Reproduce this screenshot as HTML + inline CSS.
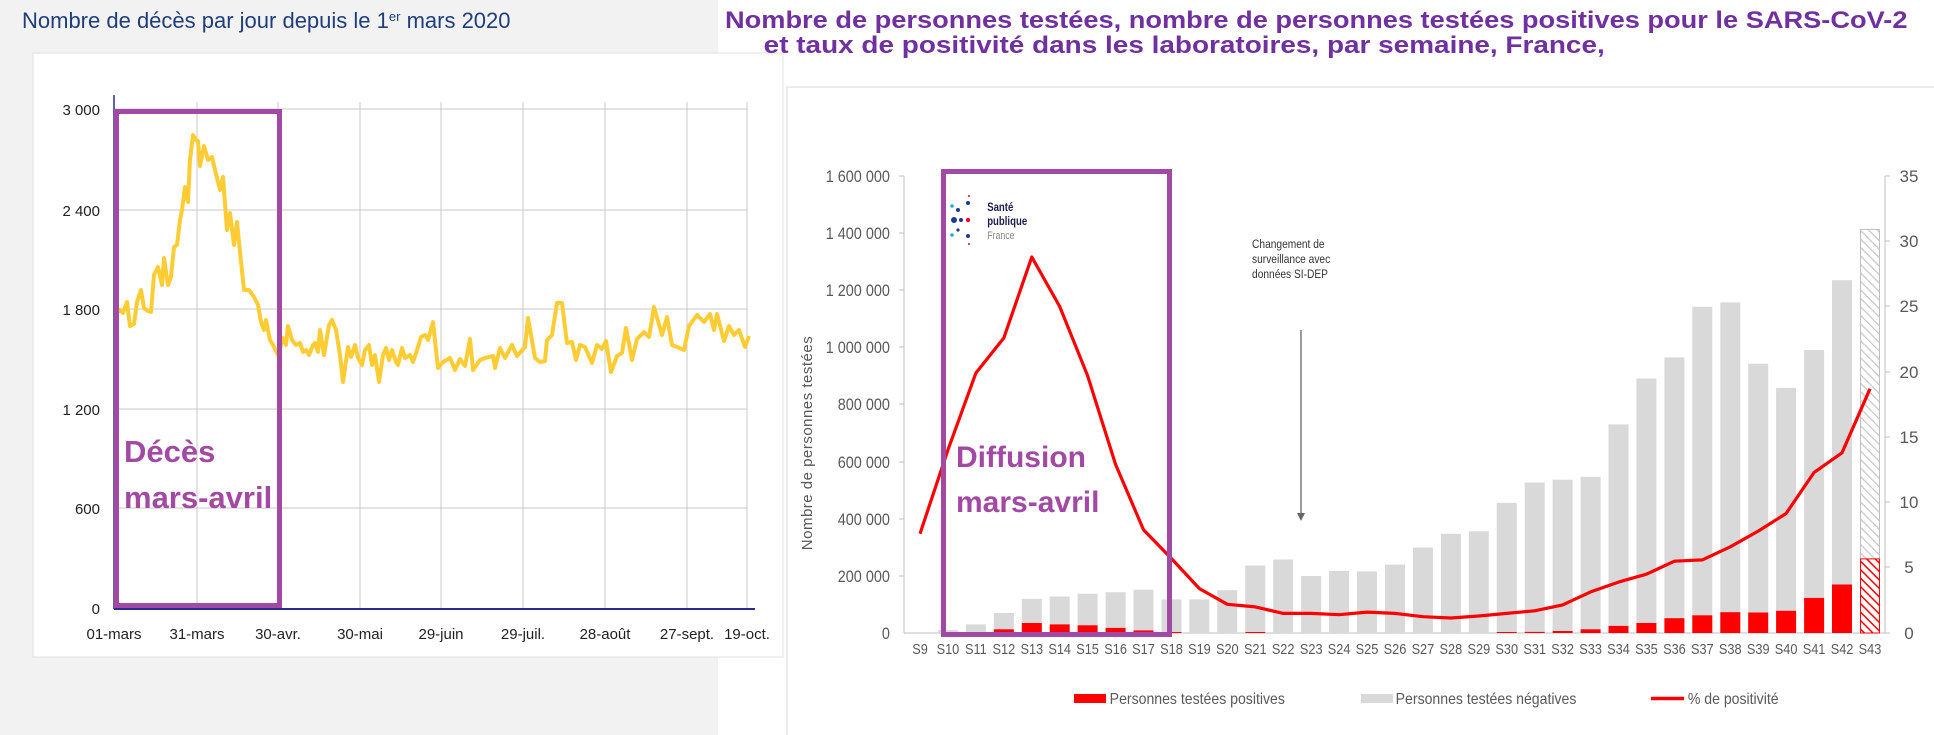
<!DOCTYPE html>
<html><head><meta charset="utf-8"><style>
html,body{margin:0;padding:0;background:#fff;}
svg{display:block;font-family:"Liberation Sans",Arial,sans-serif;}
</style></head><body>
<svg width="1934" height="735" viewBox="0 0 1934 735" xmlns="http://www.w3.org/2000/svg">
<defs>
<pattern id="hg" patternUnits="userSpaceOnUse" width="6" height="6" patternTransform="rotate(-45)"><rect width="6" height="6" fill="#fff"/><line x1="0" y1="0" x2="0" y2="6" stroke="#c8c8c8" stroke-width="2.5"/></pattern>
<pattern id="hr" patternUnits="userSpaceOnUse" width="6" height="6" patternTransform="rotate(-45)"><rect width="6" height="6" fill="#fff"/><line x1="0" y1="0" x2="0" y2="6" stroke="#ff0000" stroke-width="3"/></pattern>
</defs>
<!-- left background -->
<rect x="0" y="0" width="718" height="735" fill="#f2f2f2"/>
<rect x="718" y="0" width="1216" height="735" fill="#fff"/>
<rect x="33" y="53" width="750" height="604" fill="#fff" stroke="#e0e0e0"/>
<text x="22" y="28" font-size="22" fill="#1f3e7a" font-family="Liberation Sans, sans-serif">Nombre de décès par jour depuis le 1<tspan font-size="13" dy="-7">er</tspan><tspan dy="7"> mars 2020</tspan></text>
<!-- left grid -->
<g stroke="#c8c8c8" stroke-width="1">
<line x1="114" y1="109" x2="747" y2="109"/><line x1="114" y1="210" x2="747" y2="210"/><line x1="114" y1="309" x2="747" y2="309"/><line x1="114" y1="409" x2="747" y2="409"/><line x1="114" y1="508" x2="747" y2="508"/>
<line x1="197" y1="102" x2="197" y2="609"/><line x1="278" y1="102" x2="278" y2="609"/><line x1="360" y1="102" x2="360" y2="609"/><line x1="441" y1="102" x2="441" y2="609"/><line x1="523" y1="102" x2="523" y2="609"/><line x1="605" y1="102" x2="605" y2="609"/><line x1="687" y1="102" x2="687" y2="609"/><line x1="747" y1="102" x2="747" y2="609"/>
</g>
<line x1="114" y1="95" x2="114" y2="609" stroke="#2b2b8f" stroke-width="1.5"/>
<line x1="114" y1="609" x2="755" y2="609" stroke="#2b2b8f" stroke-width="2"/>
<g font-size="15" fill="#222" text-anchor="end">
<text x="100" y="115">3 000</text><text x="100" y="216">2 400</text><text x="100" y="315">1 800</text><text x="100" y="415">1 200</text><text x="100" y="514">600</text><text x="100" y="614">0</text>
</g>
<g font-size="15" fill="#222" text-anchor="middle">
<text x="114" y="639">01-mars</text><text x="197" y="639">31-mars</text><text x="278" y="639">30-avr.</text><text x="360" y="639">30-mai</text><text x="441" y="639">29-juin</text><text x="523" y="639">29-juil.</text><text x="605" y="639">28-août</text><text x="687" y="639">27-sept.</text><text x="747" y="639">19-oct.</text>
</g>
<polyline fill="none" stroke="#ffcd33" stroke-width="4" stroke-linejoin="round" points="117,312 120,310 123,313 127,302 130,326 134,324 137,302 141,290 144,308 148,311 151,312 154,275 158,267 162,285 164,258 168,285 171,277 174,247 177,245 180,220 182,210 185,187 188,202 190,160 193,135 196,140 198,141 200,166 204,146 208,160 212,157 216,174 220,190 223,177 227,230 230,213 234,245 237,222 240,252 244,290 249,290 254,297 258,305 261,322 264,330 266,320 270,340 273,345 278,355 283,338 286,345 288,326 292,340 296,345 300,343 303,352 306,350 309,355 313,345 315,343 318,352 320,330 324,355 329,325 332,320 336,330 340,355 343,382 348,347 351,357 355,345 358,358 362,365 365,350 369,345 372,365 375,355 379,382 383,355 386,348 389,360 392,350 396,362 398,365 402,348 405,358 410,355 413,362 418,347 421,337 425,335 428,340 433,322 438,368 443,362 450,358 455,370 460,359 465,366 470,339 473,370 480,360 485,358 493,356 495,368 500,348 505,358 512,345 517,356 525,347 528,318 535,358 540,362 545,361 547,340 552,335 557,303 562,303 567,343 572,342 576,360 580,345 585,347 592,363 597,345 602,349 606,341 611,372 617,356 622,353 626,328 632,360 637,339 644,332 649,337 654,307 662,335 667,317 672,345 677,347 684,350 689,326 697,315 704,322 710,314 714,330 717,314 724,341 729,326 734,335 739,330 745,347 749,336"/>
<rect x="116.5" y="111.5" width="163" height="494" fill="none" stroke="#a24aa3" stroke-width="5"/>
<text x="124" y="462" font-size="31" font-weight="bold" fill="#a24aa3">Décès</text>
<text x="124" y="508" font-size="31" font-weight="bold" fill="#a24aa3">mars-avril</text>

<!-- right panel -->
<rect x="787" y="87" width="1160" height="660" fill="#fff" stroke="#d8d8d8"/>
<g font-size="24" font-weight="bold" fill="#7030a0" transform="scale(0.86,1)">
<text x="843" y="28" textLength="1375" lengthAdjust="spacingAndGlyphs">Nombre de personnes testées, nombre de personnes testées positives pour le SARS-CoV-2</text>
<text x="888" y="53" textLength="978" lengthAdjust="spacingAndGlyphs">et taux de positivité dans les laboratoires, par semaine, France,</text>
</g>
<!-- axes -->
<line x1="904" y1="176" x2="904" y2="633" stroke="#bfbfbf"/>
<line x1="1885" y1="176" x2="1885" y2="633" stroke="#bfbfbf"/>
<line x1="904" y1="633" x2="1885" y2="633" stroke="#bfbfbf"/>
<g stroke="#bfbfbf">
<line x1="899" y1="176" x2="904" y2="176"/><line x1="899" y1="233" x2="904" y2="233"/><line x1="899" y1="290" x2="904" y2="290"/><line x1="899" y1="347" x2="904" y2="347"/><line x1="899" y1="404" x2="904" y2="404"/><line x1="899" y1="462" x2="904" y2="462"/><line x1="899" y1="519" x2="904" y2="519"/><line x1="899" y1="576" x2="904" y2="576"/>
<line x1="1885" y1="176" x2="1890" y2="176"/><line x1="1885" y1="241" x2="1890" y2="241"/><line x1="1885" y1="306" x2="1890" y2="306"/><line x1="1885" y1="372" x2="1890" y2="372"/><line x1="1885" y1="437" x2="1890" y2="437"/><line x1="1885" y1="502" x2="1890" y2="502"/><line x1="1885" y1="567" x2="1890" y2="567"/><line x1="1885" y1="633" x2="1890" y2="633"/>
</g>
<g font-size="17" fill="#595959" text-anchor="end" transform="scale(0.85,1)">
<text x="1047" y="182">1 600 000</text><text x="1047" y="239">1 400 000</text><text x="1047" y="296">1 200 000</text><text x="1047" y="353">1 000 000</text><text x="1047" y="410">800 000</text><text x="1047" y="468">600 000</text><text x="1047" y="525">400 000</text><text x="1047" y="582">200 000</text><text x="1047" y="639">0</text>
</g>
<g font-size="17" fill="#595959" text-anchor="middle">
<text x="1909" y="182">35</text><text x="1909" y="247">30</text><text x="1909" y="312">25</text><text x="1909" y="378">20</text><text x="1909" y="443">15</text><text x="1909" y="508">10</text><text x="1909" y="573">5</text><text x="1909" y="639">0</text>
</g>
<text transform="translate(812,443) rotate(-90)" font-size="15" fill="#595959" text-anchor="middle" letter-spacing="0.5">Nombre de personnes  testées</text>
<!-- bars -->
<g fill="#d9d9d9">
<rect x="937.9" y="630.1" width="20" height="2.9"/><rect x="965.9" y="624.4" width="20" height="8.6"/><rect x="993.8" y="613" width="20" height="20"/><rect x="1021.8" y="598.8" width="20" height="34.2"/><rect x="1049.7" y="596.5" width="20" height="36.5"/><rect x="1077.6" y="593.7" width="20" height="39.3"/><rect x="1105.6" y="592.2" width="20" height="40.8"/><rect x="1133.5" y="589.7" width="20" height="43.3"/><rect x="1161.5" y="599.4" width="20" height="33.6"/><rect x="1189.4" y="599.4" width="20" height="33.6"/><rect x="1217.3" y="590.2" width="20" height="42.8"/><rect x="1245.3" y="565.5" width="20" height="67.5"/><rect x="1273.2" y="559.5" width="20" height="73.5"/><rect x="1301.2" y="576" width="20" height="57"/><rect x="1329.1" y="570.9" width="20" height="62.1"/><rect x="1357" y="571.4" width="20" height="61.6"/><rect x="1385" y="564.6" width="20" height="68.4"/><rect x="1412.9" y="547.5" width="20" height="85.5"/><rect x="1440.9" y="533.8" width="20" height="99.2"/><rect x="1468.8" y="531.3" width="20" height="101.7"/><rect x="1496.7" y="502.8" width="20" height="130.2"/><rect x="1524.7" y="482.5" width="20" height="150.5"/><rect x="1552.6" y="479.7" width="20" height="153.3"/><rect x="1580.6" y="476.8" width="20" height="156.2"/><rect x="1608.5" y="424.4" width="20" height="208.6"/><rect x="1636.4" y="378.5" width="20" height="254.5"/><rect x="1664.4" y="357.4" width="20" height="275.6"/><rect x="1692.3" y="306.7" width="20" height="326.3"/><rect x="1720.3" y="302.4" width="20" height="330.6"/><rect x="1748.2" y="363.7" width="20" height="269.3"/><rect x="1776.1" y="387.9" width="20" height="245.1"/><rect x="1804.1" y="350" width="20" height="283"/><rect x="1832" y="280.2" width="20" height="352.8"/>
</g>
<rect x="1860.5" y="229.4" width="19" height="403.6" fill="url(#hg)" stroke="#bfbfbf"/>
<g fill="#ff0000">
<rect x="965.9" y="632" width="20" height="1"/><rect x="993.8" y="629.3" width="20" height="3.7"/><rect x="1021.8" y="623" width="20" height="10"/><rect x="1049.7" y="624.4" width="20" height="8.6"/><rect x="1077.6" y="625.3" width="20" height="7.7"/><rect x="1105.6" y="627.9" width="20" height="5.1"/><rect x="1133.5" y="630.4" width="20" height="2.6"/><rect x="1161.5" y="632" width="20" height="1"/><rect x="1245.3" y="632" width="20" height="1"/><rect x="1496.7" y="632" width="20" height="1"/><rect x="1524.7" y="631.9" width="20" height="1.1"/><rect x="1552.6" y="631" width="20" height="2"/><rect x="1580.6" y="629.3" width="20" height="3.7"/><rect x="1608.5" y="625.9" width="20" height="7.1"/><rect x="1636.4" y="623" width="20" height="10"/><rect x="1664.4" y="618.2" width="20" height="14.8"/><rect x="1692.3" y="615.3" width="20" height="17.7"/><rect x="1720.3" y="612.2" width="20" height="20.8"/><rect x="1748.2" y="612.5" width="20" height="20.5"/><rect x="1776.1" y="610.8" width="20" height="22.2"/><rect x="1804.1" y="597.9" width="20" height="35.1"/><rect x="1832" y="584.5" width="20" height="48.5"/>
</g>
<rect x="1860.5" y="558.9" width="19" height="74.1" fill="url(#hr)" stroke="#ff0000"/>
<polyline fill="none" stroke="#ff0000" stroke-width="3.2" stroke-linejoin="round" points="920,533.7 947.9,450 975.9,373 1003.8,338 1031.8,257 1059.7,306.5 1087.6,375.7 1115.6,464.5 1143.5,529.8 1171.5,558.6 1199.4,588.6 1227.3,604.3 1255.3,606.9 1283.2,613.4 1311.2,613.4 1339.1,614.7 1367,612.1 1395,613.4 1422.9,616.7 1450.9,618 1478.8,616 1506.7,613.4 1534.7,610.8 1562.6,604.9 1590.6,591.9 1618.5,582.1 1646.4,574.2 1674.4,561.2 1702.3,559.9 1730.3,546.8 1758.2,531.1 1786.1,513.5 1814.1,472.4 1842,452.8 1870,388.8"/>
<!-- x labels -->
<g font-size="15" fill="#595959" text-anchor="middle" transform="scale(0.85,1)">
<text x="1082.4" y="654">S9</text><text x="1115.2" y="654">S10</text><text x="1148.1" y="654">S11</text><text x="1181" y="654">S12</text><text x="1213.9" y="654">S13</text><text x="1246.7" y="654">S14</text><text x="1279.5" y="654">S15</text><text x="1312.5" y="654">S16</text><text x="1345.3" y="654">S17</text><text x="1378.2" y="654">S18</text><text x="1411.1" y="654">S19</text><text x="1443.9" y="654">S20</text><text x="1476.8" y="654">S21</text><text x="1509.6" y="654">S22</text><text x="1542.6" y="654">S23</text><text x="1575.4" y="654">S24</text><text x="1608.2" y="654">S25</text><text x="1641.2" y="654">S26</text><text x="1674" y="654">S27</text><text x="1706.9" y="654">S28</text><text x="1739.8" y="654">S29</text><text x="1772.6" y="654">S30</text><text x="1805.5" y="654">S31</text><text x="1838.4" y="654">S32</text><text x="1871.3" y="654">S33</text><text x="1904.1" y="654">S34</text><text x="1937" y="654">S35</text><text x="1969.9" y="654">S36</text><text x="2002.7" y="654">S37</text><text x="2035.6" y="654">S38</text><text x="2068.5" y="654">S39</text><text x="2101.3" y="654">S40</text><text x="2134.2" y="654">S41</text><text x="2167.1" y="654">S42</text><text x="2200" y="654">S43</text>
</g>
<!-- legend -->
<rect x="1074" y="694" width="32" height="9" fill="#ff0000"/>
<rect x="1361" y="694" width="32" height="9" fill="#d9d9d9"/>
<line x1="1651" y1="698.5" x2="1684" y2="698.5" stroke="#ff0000" stroke-width="3.5"/>
<g font-size="16" fill="#595959" transform="scale(0.88,1)">
<text x="1261" y="704">Personnes testées positives</text>
<text x="1586" y="704">Personnes testées négatives</text>
<text x="1918" y="704">% de positivité</text>
</g>
<!-- annotation -->
<g font-size="12" fill="#333" transform="scale(0.85,1)">
<text x="1473" y="248">Changement de</text><text x="1473" y="263">surveillance avec</text><text x="1473" y="278">données SI-DEP</text>
</g>
<line x1="1301" y1="330" x2="1301" y2="514" stroke="#666" stroke-width="1.3"/>
<polygon points="1297,513 1305,513 1301,521" fill="#666"/>
<!-- logo -->
<g>
<circle cx="952" cy="206" r="1.8" fill="#29abe2"/><circle cx="958" cy="210" r="2" fill="#1d3a8a"/><circle cx="968" cy="203" r="2" fill="#1d3a8a"/><circle cx="969" cy="196" r="1" fill="#e4003a"/>
<circle cx="954" cy="220" r="3" fill="#1d3a8a"/><circle cx="961" cy="220" r="2" fill="#1d3a8a"/><circle cx="968" cy="220" r="2.2" fill="#e4003a"/>
<circle cx="952" cy="235" r="1.8" fill="#29abe2"/><circle cx="958" cy="230" r="1.6" fill="#1d3a8a"/><circle cx="968" cy="236" r="2" fill="#1d3a8a"/><circle cx="969" cy="244" r="1" fill="#e4003a"/>
<g transform="scale(0.8,1)"><text x="1234" y="211" font-size="12" font-weight="bold" fill="#1d1d4d">Santé</text><text x="1234" y="225" font-size="12" font-weight="bold" fill="#1d1d4d">publique</text><text x="1234" y="239" font-size="11" fill="#888">France</text></g>
</g>
<rect x="943.5" y="171.5" width="226" height="463" fill="none" stroke="#a24aa3" stroke-width="5"/>
<text x="956" y="467" font-size="30" font-weight="bold" fill="#a24aa3">Diffusion</text>
<text x="956" y="512" font-size="30" font-weight="bold" fill="#a24aa3">mars-avril</text>
</svg>
</body></html>
